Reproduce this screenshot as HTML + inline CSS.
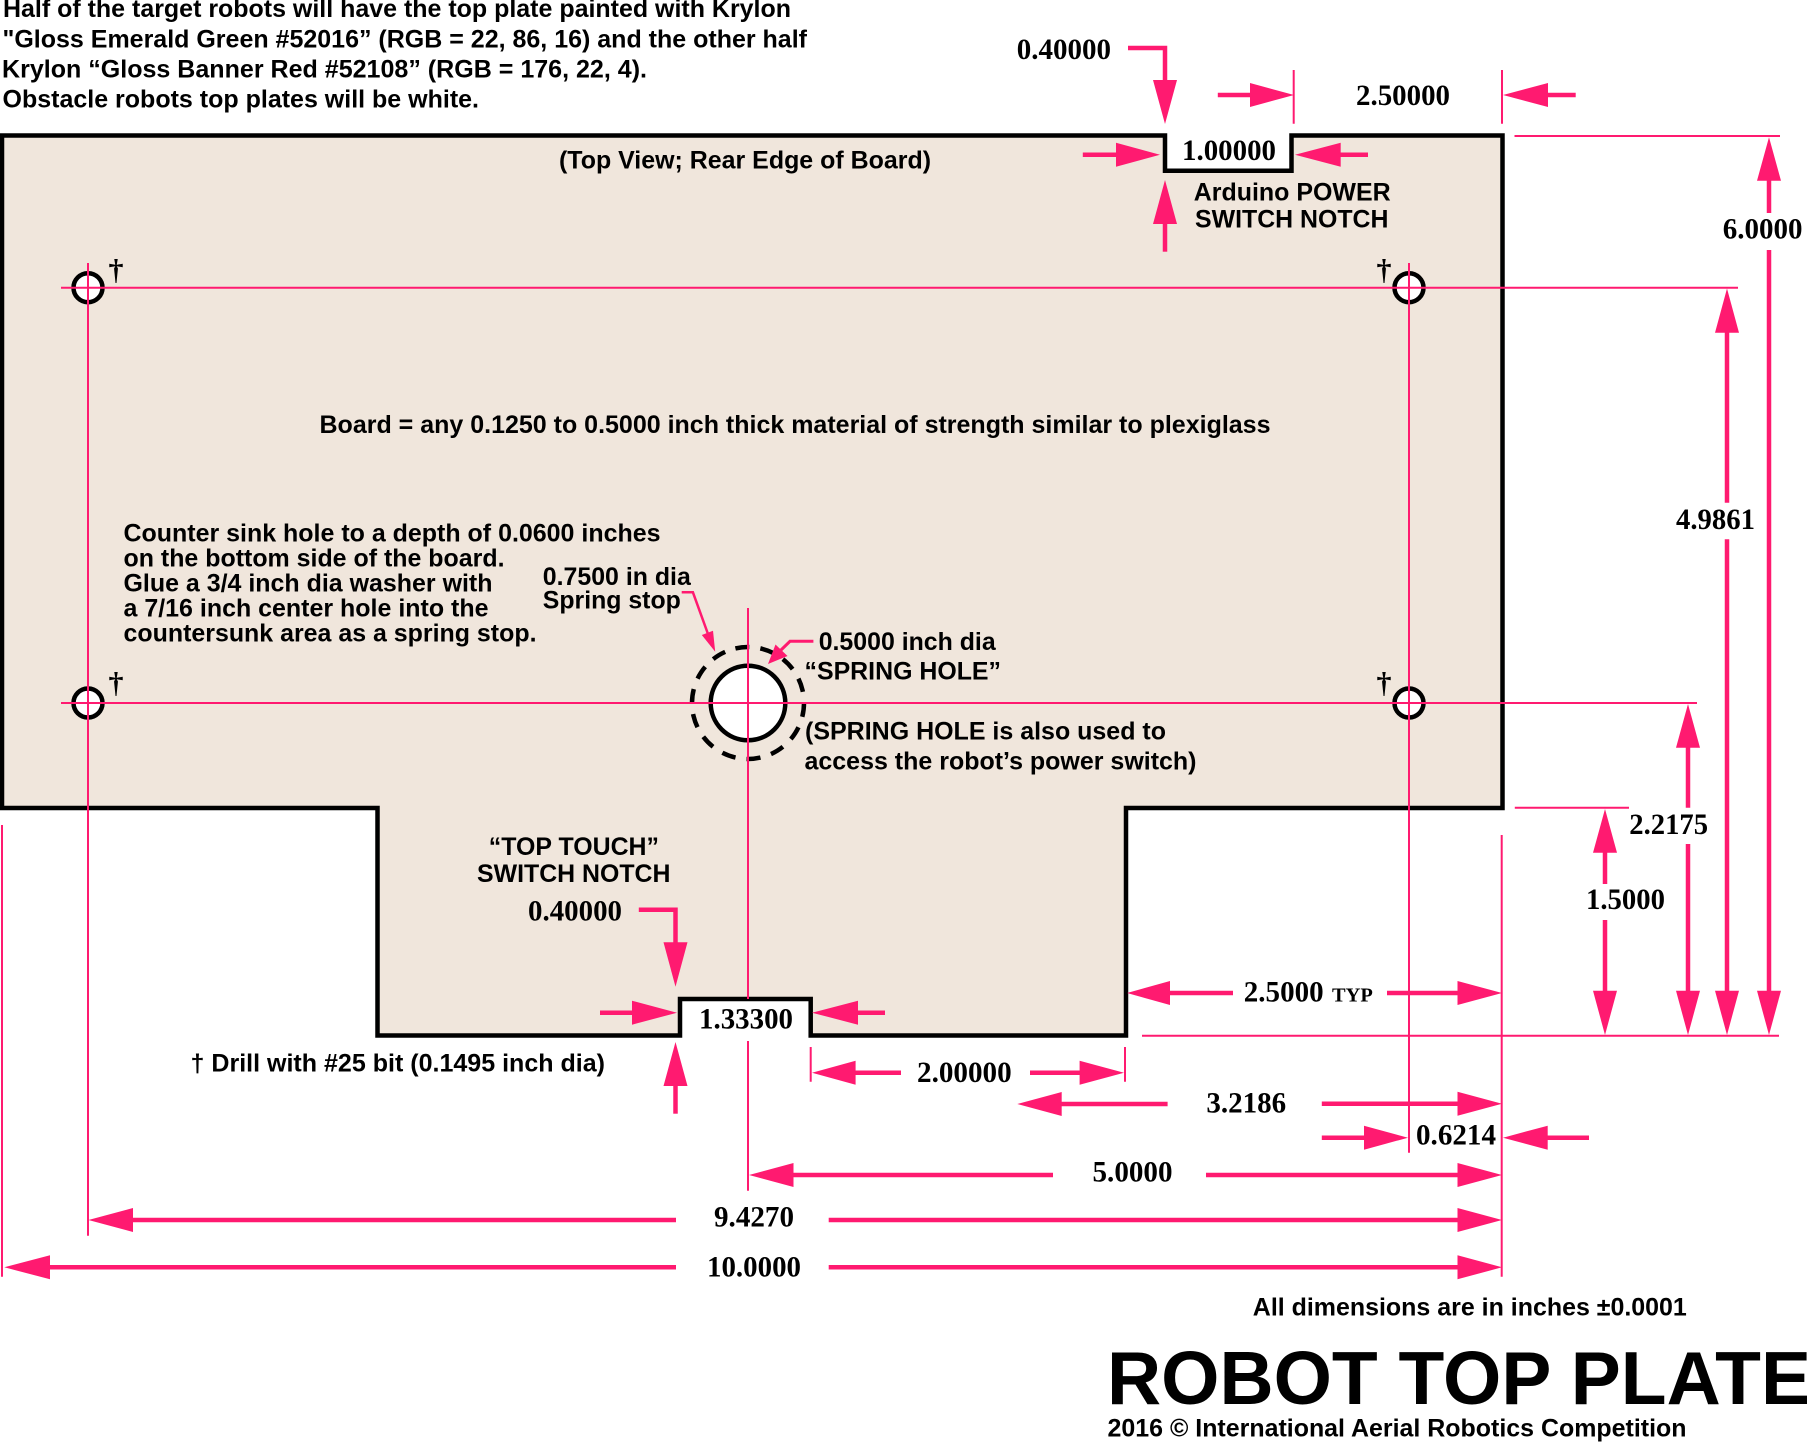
<!DOCTYPE html>
<html>
<head>
<meta charset="utf-8">
<title>Robot Top Plate</title>
<style>
html,body{margin:0;padding:0;background:#fff;}
svg{display:block;}
.s{font-family:"Liberation Sans",sans-serif;font-weight:bold;font-size:25px;fill:#000;}
.n{font-family:"Liberation Serif",serif;font-weight:bold;font-size:30px;fill:#000;}
.d{font-family:"Liberation Serif",serif;font-weight:bold;font-size:30px;fill:#000;text-anchor:middle;}
.t{fill:none;stroke:#ff1a70;stroke-width:2;}
.h{fill:none;stroke:#ff1a70;stroke-width:4.5;}
.a{fill:#ff1a70;stroke:none;}
</style>
</head>
<body>
<svg xmlns="http://www.w3.org/2000/svg" width="1807" height="1442" viewBox="0 0 1807 1442">
<rect width="1807" height="1442" fill="#fff"/>

<!-- Board -->
<path d="M2 135.5H1165V170.7H1291.5V135.5H1502.5V808H1126V1035.5H810.7V999H680V1035.5H377.5V808H2Z" fill="#f0e6dc" stroke="#000" stroke-width="4.5"/>

<!-- Holes -->
<circle cx="88" cy="287.7" r="14.5" fill="#fff" stroke="#000" stroke-width="4.5"/>
<circle cx="1409" cy="287.7" r="14.5" fill="#fff" stroke="#000" stroke-width="4.5"/>
<circle cx="88" cy="703" r="14.5" fill="#fff" stroke="#000" stroke-width="4.5"/>
<circle cx="1409" cy="703" r="14.5" fill="#fff" stroke="#000" stroke-width="4.5"/>
<circle cx="748" cy="703" r="37.3" fill="#fff" stroke="#000" stroke-width="4.5"/>
<circle cx="748" cy="703" r="56" fill="none" stroke="#000" stroke-width="4.5" stroke-dasharray="14 11.13" transform="rotate(-103 748 703)"/>

<!-- Thin centre and extension lines -->
<path class="t" d="M61 287.7H1738M61 703H1697M88 263V1235.7M1409 263V1152.7M748 608V999M748 1041V1190.7"/>
<path class="t" d="M1514.5 136H1780M1514.8 807.8H1629M1142 1035.7H1779M1501.7 835V1276.7M2 825V1276.7"/>
<path class="t" d="M1293.7 70V123.7M1502 70V123.7M810.7 1047V1081.7M1125 1047V1081.7"/>

<!-- Top notch dimensions -->
<path class="h" d="M1128 48H1165V82"/>
<polygon class="a" points="1165,124 1153,80 1177,80"/>
<path class="h" d="M1217.8 95H1252"/>
<polygon class="a" points="1294,95 1250,83 1250,107"/>
<path class="h" d="M1546 95H1575.7"/>
<polygon class="a" points="1503,95 1548,83 1548,107"/>
<path class="h" d="M1082.8 154.7H1118"/>
<polygon class="a" points="1160,154.7 1116,142.7 1116,166.7"/>
<path class="h" d="M1338 154.7H1368"/>
<polygon class="a" points="1295,154.7 1340.7,142.7 1340.7,166.7"/>
<path class="h" d="M1165 222V251.7"/>
<polygon class="a" points="1165,180 1153,224 1177,224"/>

<!-- Right vertical dimensions -->
<polygon class="a" points="1769,137.3 1757,180.7 1781,180.7"/>
<path class="h" d="M1769 178V213M1769 250V993"/>
<polygon class="a" points="1769,1035 1757,990.7 1781,990.7"/>
<polygon class="a" points="1727,288.5 1715,332.7 1739,332.7"/>
<path class="h" d="M1727 330V502.7M1727 539.3V993"/>
<polygon class="a" points="1727,1035 1715,990.7 1739,990.7"/>
<polygon class="a" points="1688,704 1676,747.7 1700,747.7"/>
<path class="h" d="M1688 745V807.7M1688 844V993"/>
<polygon class="a" points="1688,1035 1676,990.7 1700,990.7"/>
<polygon class="a" points="1605,809 1593,852.7 1617,852.7"/>
<path class="h" d="M1605 850V884M1605 920V993"/>
<polygon class="a" points="1605,1035 1593,990.7 1617,990.7"/>

<!-- Bottom notch dimensions -->
<path class="h" d="M638.8 909.7H675.5V945"/>
<polygon class="a" points="675.5,986.7 663.5,942.3 687.5,942.3"/>
<path class="h" d="M600 1012.7H634"/>
<polygon class="a" points="677,1012.7 632,1000.7 632,1024.7"/>
<path class="h" d="M856 1012.7H885"/>
<polygon class="a" points="812,1012.7 858,1000.7 858,1024.7"/>
<path class="h" d="M675.5 1084V1113.7"/>
<polygon class="a" points="675.5,1042 663.5,1086 687.5,1086"/>

<!-- Horizontal dimensions -->
<polygon class="a" points="812,1072.7 855.6,1060.7 855.6,1084.7"/>
<path class="h" d="M853 1072.7H901M1030 1072.7H1082"/>
<polygon class="a" points="1124,1072.7 1079.6,1060.7 1079.6,1084.7"/>

<polygon class="a" points="1127,993 1170,981 1170,1005"/>
<path class="h" d="M1168 993H1233M1387 993H1460"/>
<polygon class="a" points="1502,993 1457.5,981 1457.5,1005"/>

<polygon class="a" points="1017.3,1104 1061.7,1092 1061.7,1116"/>
<path class="h" d="M1059 1104H1167.6M1321.8 1103.7H1460"/>
<polygon class="a" points="1502,1103.7 1457.5,1091.7 1457.5,1115.7"/>

<path class="h" d="M1321.8 1137.7H1366"/>
<polygon class="a" points="1408,1137.7 1364,1125.7 1364,1149.7"/>
<polygon class="a" points="1503,1137.7 1547.7,1125.7 1547.7,1149.7"/>
<path class="h" d="M1545 1137.7H1589"/>

<polygon class="a" points="749,1175 793.5,1163 793.5,1187"/>
<path class="h" d="M791 1175H1053M1206 1175H1460"/>
<polygon class="a" points="1502,1175 1457.5,1163 1457.5,1187"/>

<polygon class="a" points="88.4,1220 133,1208 133,1232"/>
<path class="h" d="M130 1220H676M828.7 1220H1460"/>
<polygon class="a" points="1502,1220 1457.5,1208 1457.5,1232"/>

<polygon class="a" points="4.3,1267.3 50,1255.3 50,1279.3"/>
<path class="h" d="M47 1267.3H676M828.7 1267.3H1460"/>
<polygon class="a" points="1502,1267.3 1457.5,1255.3 1457.5,1279.3"/>

<!-- Spring hole leaders -->
<path fill="none" stroke="#ff1a70" stroke-width="2.5" d="M681.7 592.3H692.9L708 634"/>
<polygon class="a" points="715.2,651.7 701.8,635 713,630.7"/>
<path fill="none" stroke="#ff1a70" stroke-width="3" d="M813.4 641.3H790L780 651"/>
<polygon class="a" points="768,664 775.5,644.5 787.5,656"/>

<!-- Sans text -->
<text class="s" x="3" y="17" textLength="788" lengthAdjust="spacingAndGlyphs">Half of the target robots will have the top plate painted with Krylon</text>
<text class="s" x="2.5" y="47.7" textLength="804.5" lengthAdjust="spacingAndGlyphs">"Gloss Emerald Green #52016” (RGB = 22, 86, 16) and the other half</text>
<text class="s" x="2" y="77.7" textLength="645" lengthAdjust="spacingAndGlyphs">Krylon “Gloss Banner Red #52108” (RGB = 176, 22, 4).</text>
<text class="s" x="2.5" y="107.7" textLength="476.5" lengthAdjust="spacingAndGlyphs">Obstacle robots top plates will be white.</text>
<text class="s" x="559" y="168.3" textLength="372" lengthAdjust="spacingAndGlyphs">(Top View; Rear Edge of Board)</text>
<text class="s" x="1193.7" y="200.7" textLength="197" lengthAdjust="spacingAndGlyphs">Arduino POWER</text>
<text class="s" x="1195" y="227.7" textLength="193.5" lengthAdjust="spacingAndGlyphs">SWITCH NOTCH</text>
<text class="s" x="319.5" y="433" textLength="951" lengthAdjust="spacingAndGlyphs">Board = any 0.1250 to 0.5000 inch thick material of strength similar to plexiglass</text>
<text class="s" x="123.5" y="541.7" textLength="537" lengthAdjust="spacingAndGlyphs">Counter sink hole to a depth of 0.0600 inches</text>
<text class="s" x="123.5" y="566.7" textLength="381" lengthAdjust="spacingAndGlyphs">on the bottom side of the board.</text>
<text class="s" x="123.5" y="591.7" textLength="369" lengthAdjust="spacingAndGlyphs">Glue a 3/4 inch dia washer with</text>
<text class="s" x="123.5" y="616.7" textLength="365" lengthAdjust="spacingAndGlyphs">a 7/16 inch center hole into the</text>
<text class="s" x="123.5" y="641.7" textLength="413" lengthAdjust="spacingAndGlyphs">countersunk area as a spring stop.</text>
<text class="s" x="542.8" y="585" textLength="148" lengthAdjust="spacingAndGlyphs">0.7500 in dia</text>
<text class="s" x="542.8" y="608.3" textLength="138" lengthAdjust="spacingAndGlyphs">Spring stop</text>
<text class="s" x="818.7" y="650" textLength="177" lengthAdjust="spacingAndGlyphs">0.5000 inch dia</text>
<text class="s" x="804.5" y="679.3" textLength="196.5" lengthAdjust="spacingAndGlyphs">“SPRING HOLE”</text>
<text class="s" x="805" y="739.3" textLength="361" lengthAdjust="spacingAndGlyphs">(SPRING HOLE is also used to</text>
<text class="s" x="804.5" y="769.3" textLength="392" lengthAdjust="spacingAndGlyphs">access the robot’s power switch)</text>
<text class="s" x="488.8" y="855" textLength="170.2" lengthAdjust="spacingAndGlyphs">“TOP TOUCH”</text>
<text class="s" x="477" y="882" textLength="193.5" lengthAdjust="spacingAndGlyphs">SWITCH NOTCH</text>
<text class="s" x="190.5" y="1071.7" textLength="414.5" lengthAdjust="spacingAndGlyphs">† Drill with #25 bit (0.1495 inch dia)</text>
<text class="s" x="1252.8" y="1315.5" textLength="434" lengthAdjust="spacingAndGlyphs">All dimensions are in inches ±0.0001</text>
<text class="s" x="1107" y="1404" style="font-size:75px" textLength="704" lengthAdjust="spacingAndGlyphs">ROBOT TOP PLATE</text>
<text class="s" x="1107.5" y="1436.7" textLength="579" lengthAdjust="spacingAndGlyphs">2016 © International Aerial Robotics Competition</text>

<!-- Daggers -->
<text class="d" x="116" y="279.5">†</text>
<text class="d" x="1384" y="279.5">†</text>
<text class="d" x="116" y="692.5">†</text>
<text class="d" x="1384" y="692.5">†</text>

<!-- Dimension numbers -->
<text class="n" x="1016.7" y="59" textLength="94.3" lengthAdjust="spacingAndGlyphs">0.40000</text>
<text class="n" x="1356" y="105" textLength="94" lengthAdjust="spacingAndGlyphs">2.50000</text>
<text class="n" x="1182" y="160" textLength="94" lengthAdjust="spacingAndGlyphs">1.00000</text>
<text class="n" x="1722.7" y="238.3" textLength="79.8" lengthAdjust="spacingAndGlyphs">6.0000</text>
<text class="n" x="1676" y="528.8" textLength="79" lengthAdjust="spacingAndGlyphs">4.9861</text>
<text class="n" x="1629.3" y="834" textLength="78.7" lengthAdjust="spacingAndGlyphs">2.2175</text>
<text class="n" x="1586" y="909" textLength="79" lengthAdjust="spacingAndGlyphs">1.5000</text>
<text class="n" x="528" y="920.7" textLength="94" lengthAdjust="spacingAndGlyphs">0.40000</text>
<text class="n" x="699" y="1028.7" textLength="94" lengthAdjust="spacingAndGlyphs">1.33300</text>
<text class="n" x="917" y="1082" textLength="94.7" lengthAdjust="spacingAndGlyphs">2.00000</text>
<text class="n" x="1243.8" y="1001.7" textLength="79.8" lengthAdjust="spacingAndGlyphs">2.5000</text>
<text class="n" x="1332" y="1001.7" style="font-size:20px" textLength="40.8" lengthAdjust="spacingAndGlyphs">TYP</text>
<text class="n" x="1206.4" y="1112.3" textLength="79.8" lengthAdjust="spacingAndGlyphs">3.2186</text>
<text class="n" x="1416" y="1144.3" textLength="80" lengthAdjust="spacingAndGlyphs">0.6214</text>
<text class="n" x="1092.5" y="1181.7" textLength="80" lengthAdjust="spacingAndGlyphs">5.0000</text>
<text class="n" x="714" y="1226.5" textLength="80" lengthAdjust="spacingAndGlyphs">9.4270</text>
<text class="n" x="707" y="1276.7" textLength="94" lengthAdjust="spacingAndGlyphs">10.0000</text>
</svg>
</body>
</html>
